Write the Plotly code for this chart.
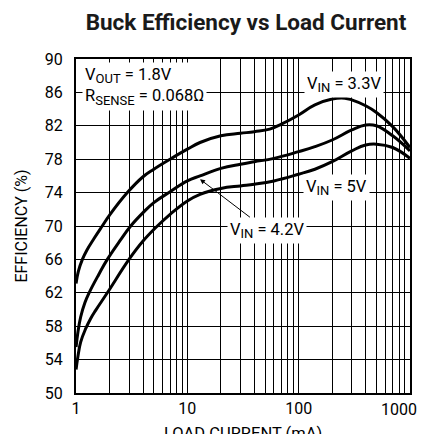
import plotly.graph_objects as go
import numpy as np

# Data (load current mA, efficiency %)
x_33 = [1, 1.05, 1.14, 1.25, 1.45, 1.72, 2, 2.89, 4, 5, 7, 10, 13, 20, 30, 40, 55, 70, 100, 140, 200, 260, 300, 400, 500, 700, 1000]
y_33 = [63.1, 64.6, 66.0, 67.1, 68.5, 70.0, 71.3, 74.0, 75.9, 76.8, 78.0, 79.2, 80.0, 80.8, 81.1, 81.3, 81.6, 82.2, 83.3, 84.5, 85.2, 85.3, 85.1, 84.4, 83.6, 81.9, 79.4]

x_42 = [1, 1.04, 1.1, 1.2, 1.31, 1.6, 1.91, 2.5, 3.1, 4, 5, 7, 10, 13, 20, 30, 40, 60, 100, 140, 200, 300, 400, 500, 700, 1000]
y_42 = [55.5, 57.3, 59.1, 60.8, 62.0, 64.2, 66.0, 68.3, 70.0, 71.6, 72.8, 74.1, 75.4, 76.0, 76.9, 77.4, 77.7, 78.1, 78.9, 79.5, 80.3, 81.5, 82.1, 82.0, 80.8, 79.0]

x_50 = [1, 1.04, 1.1, 1.22, 1.35, 1.5, 1.91, 2.99, 4, 5.38, 7, 10, 13, 20, 30, 40, 60, 100, 140, 200, 300, 400, 500, 700, 1000]
y_50 = [52.8, 54.4, 56.1, 57.7, 58.9, 59.9, 62.0, 66.0, 68.2, 70.0, 71.4, 73.0, 73.8, 74.5, 74.8, 75.0, 75.4, 76.2, 76.8, 77.7, 79.0, 79.7, 79.8, 79.4, 78.1]

y_ticks = [50, 54, 58, 62, 66, 70, 74, 78, 82, 86, 90]
x_decades = [1, 10, 100]
x_last_label = "1000"
x_grid = [m * d for d in [1, 10, 100] for m in range(1, 10)] + [1000]

FONT = "Roboto, Liberation Sans, sans-serif"


def vin(v):
    return f"V<sub><span style='font-size:13px'>IN</span></sub> = {v}"


fig = go.Figure()
for xs, ys in [(x_33, y_33), (x_42, y_42), (x_50, y_50)]:
    fig.add_trace(go.Scatter(x=xs, y=ys, mode="lines",
                             line=dict(color="black", width=3, shape="spline", smoothing=1.2),
                             showlegend=False, hoverinfo="skip"))

# page body adds an 8px margin, so the figure is sized to fit inside it
fig.update_layout(
    width=419, height=426,
    margin=dict(l=68, r=17, t=51, b=41),
    paper_bgcolor="white", plot_bgcolor="white",
    font=dict(family=FONT, color="black", size=15),
    title=dict(text="<b>Buck Efficiency vs Load Current</b>", x=0.568, xanchor="center", y=1 - 14 / 426,
               yanchor="middle", font=dict(size=22.5, family=FONT, color="#1a1a1a")),
)
fig.update_xaxes(type="log", range=[-0.0005, 3.0005], tickvals=x_grid,
                 ticktext=[str(v) if v in x_decades else "" for v in x_grid],
                 automargin=False,
                 showgrid=True, gridcolor="black", gridwidth=1, showline=True, linecolor="black", linewidth=2,
                 mirror=True, ticks="", zeroline=False,
                 tickfont=dict(size=16))
fig.update_yaxes(range=[50, 90], tickvals=y_ticks, showgrid=True, gridcolor="black", gridwidth=1,
                 showline=True, linecolor="black", linewidth=2, mirror=True, ticks="", zeroline=False,
                 ticklabelstandoff=8, automargin=False,
                 title=dict(text="EFFICIENCY (%)", font=dict(size=16), standoff=13),
                 tickfont=dict(size=16))

# last x tick label and x-axis title placed as annotations so they stay visible
fig.add_annotation(x=1.027, y=-0.048, xref="paper", yref="paper", xanchor="right", yanchor="middle",
                   text=x_last_label, showarrow=False, font=dict(size=16))
fig.add_annotation(x=0.5, y=-0.12, xref="paper", yref="paper", xanchor="center", yanchor="middle",
                   text="LOAD CURRENT (mA)", showarrow=False, font=dict(size=16.5))

fig.add_annotation(x=0.018, y=0.99, xref="paper", yref="paper", xanchor="left", yanchor="top",
                   text="V<sub><span style='font-size:13px'>OUT</span></sub> = 1.8V<br>"
                        "R<sub><span style='font-size:13px'>SENSE</span></sub> = 0.068Ω",
                   align="left", showarrow=False, bgcolor="white", font=dict(size=16.5), borderpad=2)
fig.add_annotation(x=np.log10(253), y=87.0, xref="x", yref="y", text=vin("3.3V"),
                   showarrow=False, bgcolor="white", font=dict(size=16.5), borderpad=2)
fig.add_annotation(x=np.log10(220), y=74.6, xref="x", yref="y", text=vin("5V"),
                   showarrow=False, bgcolor="white", font=dict(size=16.5), borderpad=2)
fig.add_annotation(x=np.log10(13), y=75.6, xref="x", yref="y", text=vin("4.2V"),
                   showarrow=True, arrowhead=2, arrowsize=1, arrowwidth=1, arrowcolor="black",
                   ax=67, ay=51, bgcolor="white", font=dict(size=16.5), borderpad=2)

fig.write_html("out.html")
